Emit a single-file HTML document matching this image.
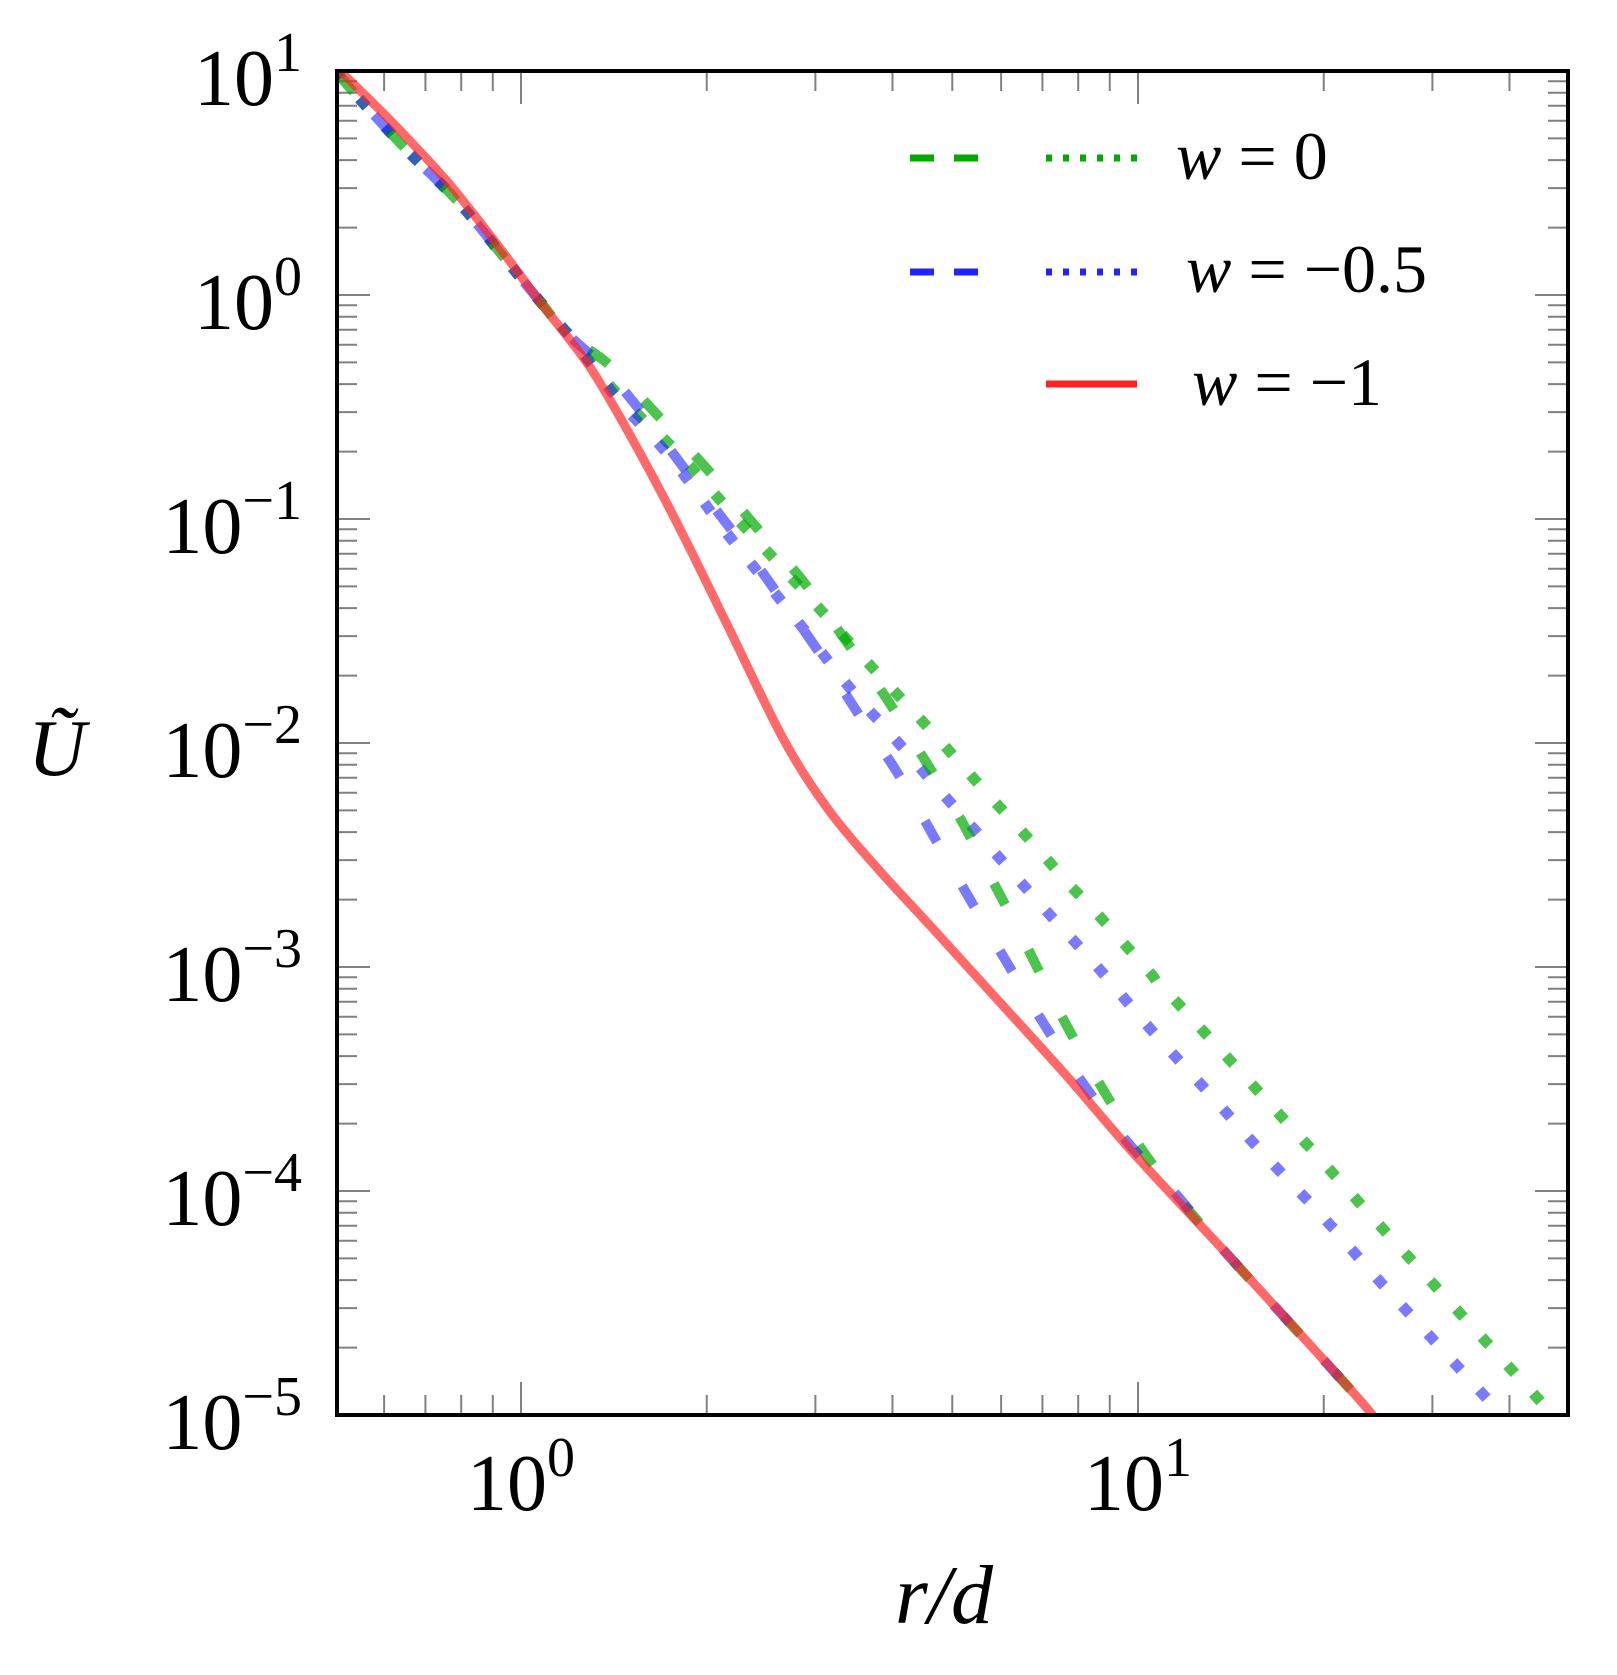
<!DOCTYPE html>
<html><head><style>body{margin:0;background:#fff}svg{display:block}</style></head>
<body>
<svg id="s" width="1617" height="1675" xmlns="http://www.w3.org/2000/svg" font-family="'Liberation Serif',serif">
<defs><clipPath id="c"><rect x="337" y="71" width="1238" height="1344"/></clipPath></defs>
<g id="ticks" stroke="#808080" stroke-width="2"></g>
<g clip-path="url(#c)"><g id="curves" fill="none" stroke-linejoin="round" transform="translate(337,0) scale(0.9943,1) translate(-337,0)">
<polyline stroke="#0a0" stroke-opacity="0.7" stroke-width="11" stroke-dasharray="0.1 38" stroke-linecap="square" points="338,74 367,107 410,153 460,203 507,260 540,300 570,335 620,395 678,451 733,512 762,543 818,604 873,665 931,727 986,788 1042,849 1070,881 1099,911 1154,972 1210,1033 1267,1095 1323,1156 1379,1218 1435,1279 1491,1340 1547,1401 1575,1432"/>
<polyline stroke="#22f" stroke-opacity="0.6" stroke-width="11" stroke-dasharray="0.1 38" stroke-linecap="square" points="338,74 367,107 410,153 460,203 507,260 540,300 570,335 620,400 672,457 722,524 749,558 800,621 852,687 908,750 934,780 990,843 1045,905 1101,966 1156,1030 1212,1091 1267,1152 1325,1213 1380,1275 1436,1336 1492,1397 1520,1428"/>
<polyline stroke="#0a0" stroke-opacity="0.7" stroke-width="10" stroke-dasharray="24 51" points="338,74 367,107 410,153 460,203 507,260 540,300 570,335 611,365 661,417 710,470 756,524 804,579 846,637 888,696 925,755 963,817 997,882 1030,945 1062,1009 1097,1072 1135,1133 1177,1190 1233,1255 1363,1397 1380,1420"/>
<polyline stroke="#22f" stroke-opacity="0.6" stroke-width="10" stroke-dasharray="24 51" stroke-dashoffset="20" points="338,74 367,107 410,153 460,203 507,260 540,300 570,335 607,369 651,422 695,480 739,537 781,595 823,654 862,715 902,775 938,838 974,900 1011,963 1048,1024 1087,1083 1131,1141 1177,1190 1233,1255 1363,1397 1380,1420"/>
<polyline stroke="#f22" stroke-opacity="0.68" stroke-width="9" points="336,67 370,100 400,130 450,184 500,247 542,303 592,368 640,450 683,531 733,632 787,741 833,812 883,871 933,925 997,995 1070,1075 1137,1152 1233,1255 1363,1397 1382,1422"/>
</g></g>
<rect x="337" y="71" width="1231" height="1344" fill="none" stroke="#000" stroke-width="4"/>
<line x1="910" y1="158" x2="998" y2="158" stroke="#0a0" stroke-width="7" stroke-dasharray="24 20"/>
<line x1="1046" y1="158" x2="1137" y2="158" stroke="#0a0" stroke-width="7" stroke-dasharray="6 11"/>
<line x1="910" y1="272" x2="998" y2="272" stroke="#22f" stroke-width="7" stroke-dasharray="24 20"/>
<line x1="1046" y1="272" x2="1137" y2="272" stroke="#22f" stroke-width="7" stroke-dasharray="6 11"/>
<line x1="1046" y1="384" x2="1137" y2="384" stroke="#f22" stroke-width="7"/>
<g font-size="68">
<text x="1176" y="179"><tspan font-style="italic">w</tspan> = 0</text>
<text x="1186" y="292"><tspan font-style="italic">w</tspan> = −0.5</text>
<text x="1192" y="405"><tspan font-style="italic">w</tspan> = −1</text>
</g>
<g id="labels" font-size="80"></g>
<text x="895" y="1623" font-size="84" font-style="italic">r/d</text>
<text x="28" y="775" font-size="80" font-style="italic">Ũ</text>
</svg>
<script>
const t=document.getElementById('ticks'),L=document.getElementById('labels');
const X=v=>521+617*Math.log10(v),Y=v=>295-224*Math.log10(v);
let h='';
for(let d=-1;d<=1;d++)for(let m=1;m<10;m++){const v=m*10**d;const x=X(v);if(x<338||x>1567)continue;const len=m==1?33:20;
h+=`<line x1="${x}" y1="1415" x2="${x}" y2="${1415-len}"/><line x1="${x}" y1="71" x2="${x}" y2="${71+len}"/>`;}
for(let d=-5;d<=1;d++)for(let m=1;m<10;m++){const v=m*10**d;const y=Y(v);if(y<70||y>1416)continue;const len=m==1?33:20;
h+=`<line x1="337" y1="${y}" x2="${337+len}" y2="${y}"/><line x1="1568" y1="${y}" x2="${1568-len}" y2="${y}"/>`;}
t.innerHTML=h;
let g='';
for(let d=1;d>=-5;d--){const y=Y(10**d);const s=d<0?'−'+(-d):''+d;
g+=`<text x="302" y="${y+34}" text-anchor="end">10<tspan font-size="56" dy="-34">${s}</tspan></text>`;}
g+=`<text x="521" y="1510" text-anchor="middle">10<tspan font-size="56" dy="-34">0</tspan></text>`;
g+=`<text x="1138" y="1510" text-anchor="middle">10<tspan font-size="56" dy="-34">1</tspan></text>`;
L.innerHTML=g;
document.querySelectorAll('#curves polyline').forEach(pl=>{
 const p=pl.getAttribute('points').trim().split(/\s+/).map(s=>s.split(',').map(Number));
 let d=`M${p[0][0]},${p[0][1]}`;
 for(let i=0;i<p.length-1;i++){const a=p[Math.max(i-1,0)],b=p[i],c=p[i+1],e=p[Math.min(i+2,p.length-1)];
  d+=` C${b[0]+(c[0]-a[0])/6},${b[1]+(c[1]-a[1])/6} ${c[0]-(e[0]-b[0])/6},${c[1]-(e[1]-b[1])/6} ${c[0]},${c[1]}`;}
 const path=document.createElementNS('http://www.w3.org/2000/svg','path');
 for(const at of pl.attributes) if(at.name!=='points') path.setAttribute(at.name,at.value);
 path.setAttribute('d',d);pl.replaceWith(path);
});
</script>
</body></html>
